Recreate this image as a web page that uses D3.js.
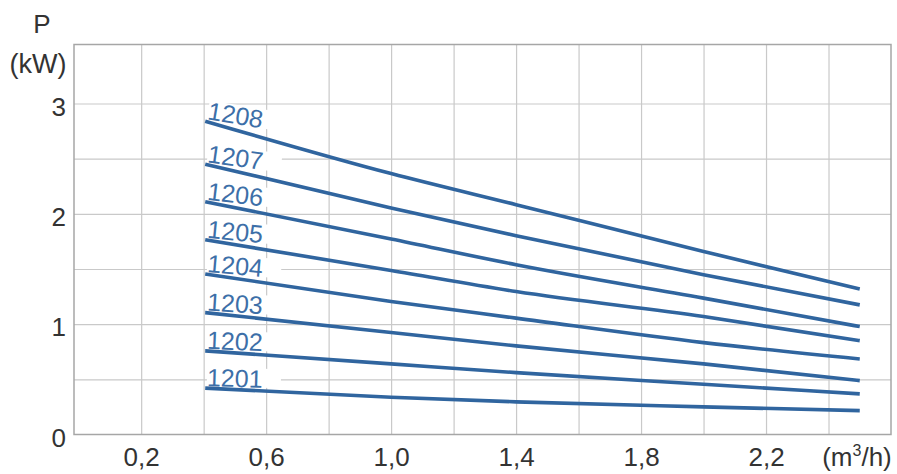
<!DOCTYPE html>
<html>
<head>
<meta charset="utf-8">
<script src="https://cdn.jsdelivr.net/npm/d3@7"></script>
<style>
  html, body { margin: 0; padding: 0; background: #fff; }
  svg { display: block; }
  text { font-family: "Liberation Sans", Arial, sans-serif; }
</style>
</head>
<body>
<svg id="chart" width="897" height="474"></svg>
<script>
// ---- data ----
const flowX = [0.405, 1.0, 1.4, 2.0, 2.5];          // m3/h sample points
const seriesNames = ["1201", "1202", "1203", "1204", "1205", "1206", "1207", "1208"];
const p1201 = [0.42, 0.338, 0.296, 0.250, 0.216];
const p1202 = [0.758, 0.640, 0.561, 0.456, 0.368];
const p1203 = [1.105, 0.924, 0.803, 0.640, 0.488];
const p1204 = [1.455, 1.205, 1.055, 0.833, 0.685];
const p1205 = [1.765, 1.487, 1.296, 1.069, 0.851];
const p1206 = [2.11, 1.772, 1.539, 1.236, 0.978];
const p1207 = [2.45, 2.053, 1.802, 1.448, 1.175];
const p1208 = [2.84, 2.365, 2.083, 1.659, 1.318];
const seriesValues = [p1201, p1202, p1203, p1204, p1205, p1206, p1207, p1208];
const yTickLabels = [0, 1, 2, 3];
const yGridValues = [0.5, 1, 1.5, 2, 2.5, 3];
const xGridValues = [0.2, 0.4, 0.6, 0.8, 1.0, 1.2, 1.4, 1.6, 1.8, 2.0, 2.2, 2.4];
const xTickLabels = [0.2, 0.6, 1.0, 1.4, 1.8, 2.2];

// ---- layout ----
const svg = d3.select("#chart");
const mLeft = 74, mRight = 891, mTop = 44.5, mBottom = 434.5;
const x = d3.scaleLinear().domain([-0.015, 2.6]).range([mLeft, mRight]);
const y = d3.scaleLinear().domain([0, 3.535]).range([mBottom, mTop]);

const gridColor = "#c9c9c9", frameColor = "#a6a6a6";
const lineColor = "#30659f", labelColor = "#3d6fa8", textColor = "#333";
const fmt = d3.formatLocale({decimal: ",", thousands: ".", grouping: [3], currency: ["", ""]}).format(".1f");

// grid
const gGrid = svg.append("g");
gGrid.append("g")
  .attr("transform", `translate(0,${mBottom})`)
  .call(d3.axisBottom(x).tickValues(xGridValues).tickSize(-(mBottom - mTop)).tickFormat(""))
  .call(g => g.select(".domain").remove())
  .call(g => g.selectAll("line").attr("stroke", gridColor).attr("stroke-width", 1.2));
gGrid.append("g")
  .attr("transform", `translate(${mLeft},0)`)
  .call(d3.axisLeft(y).tickValues(yGridValues).tickSize(-(mRight - mLeft)).tickFormat(""))
  .call(g => g.select(".domain").remove())
  .call(g => g.selectAll("line").attr("stroke", gridColor).attr("stroke-width", 1.2));

// frame
svg.append("rect")
  .attr("x", mLeft).attr("y", mTop)
  .attr("width", mRight - mLeft).attr("height", mBottom - mTop)
  .attr("fill", "none").attr("stroke", frameColor).attr("stroke-width", 1.5);

// y tick labels
svg.append("g")
  .attr("transform", `translate(${mLeft - 8},0)`)
  .call(d3.axisLeft(y).tickValues(yTickLabels).tickSize(0).tickPadding(0).tickFormat(d3.format("d")))
  .call(g => g.select(".domain").remove())
  .call(g => g.selectAll("text")
      .attr("fill", textColor).attr("font-size", 26)
      .attr("font-family", "Liberation Sans, Arial, sans-serif")
      .attr("dy", "0.45em"));

// x tick labels
svg.append("g")
  .attr("transform", `translate(0,${mBottom})`)
  .call(d3.axisBottom(x).tickValues(xTickLabels).tickSize(0).tickPadding(0).tickFormat(fmt))
  .call(g => g.select(".domain").remove())
  .call(g => g.selectAll("text")
      .attr("fill", textColor).attr("font-size", 26)
      .attr("font-family", "Liberation Sans, Arial, sans-serif")
      .attr("y", 0).attr("dy", 31));

// axis titles
svg.append("text").attr("x", 42).attr("y", 33).attr("text-anchor", "middle")
  .attr("font-size", 26).attr("fill", textColor).text("P");
svg.append("text").attr("x", 38).attr("y", 73).attr("text-anchor", "middle")
  .attr("font-size", 27).attr("fill", textColor).text("(kW)");
const unit = svg.append("text").attr("x", 857).attr("y", 466).attr("text-anchor", "middle")
  .attr("font-size", 26).attr("fill", textColor);
unit.append("tspan").text("(m");
unit.append("tspan").attr("font-size", 16).attr("dy", -10).text("3");
unit.append("tspan").attr("dy", 10).text("/h)");

// label backgrounds + lines + labels
const data = seriesNames.map((n, i) => ({name: n, pts: flowX.map((fx, j) => [fx, seriesValues[i][j]])}));
const line = d3.line().x(d => x(d[0])).y(d => y(d[1])).curve(d3.curveMonotoneX);

const labelPos = data.map(s => {
  const a = s.pts[0], b = s.pts[1];
  const ang = Math.atan2(y(b[1]) - y(a[1]), x(b[0]) - x(a[0])) * 180 / Math.PI * 0.6;
  return {name: s.name, x: x(a[0]) + 1.5, y: y(a[1]) - 2, ang};
});

svg.append("g").selectAll("rect").data(labelPos).join("rect")
  .attr("transform", d => `translate(${d.x},${d.y}) rotate(${d.ang})`)
  .attr("x", 0).attr("y", -19).attr("width", 74).attr("height", 19)
  .attr("fill", "#fff");

svg.append("g").selectAll("path").data(data).join("path")
  .attr("d", d => line(d.pts))
  .attr("fill", "none").attr("stroke", lineColor).attr("stroke-width", 3.6)
  .attr("stroke-linecap", "butt");

svg.append("g").selectAll("text").data(labelPos).join("text")
  .attr("transform", d => `translate(${d.x},${d.y}) rotate(${d.ang})`)
  .attr("font-size", 25).attr("fill", labelColor)
  .text(d => d.name);
</script>
</body>
</html>
